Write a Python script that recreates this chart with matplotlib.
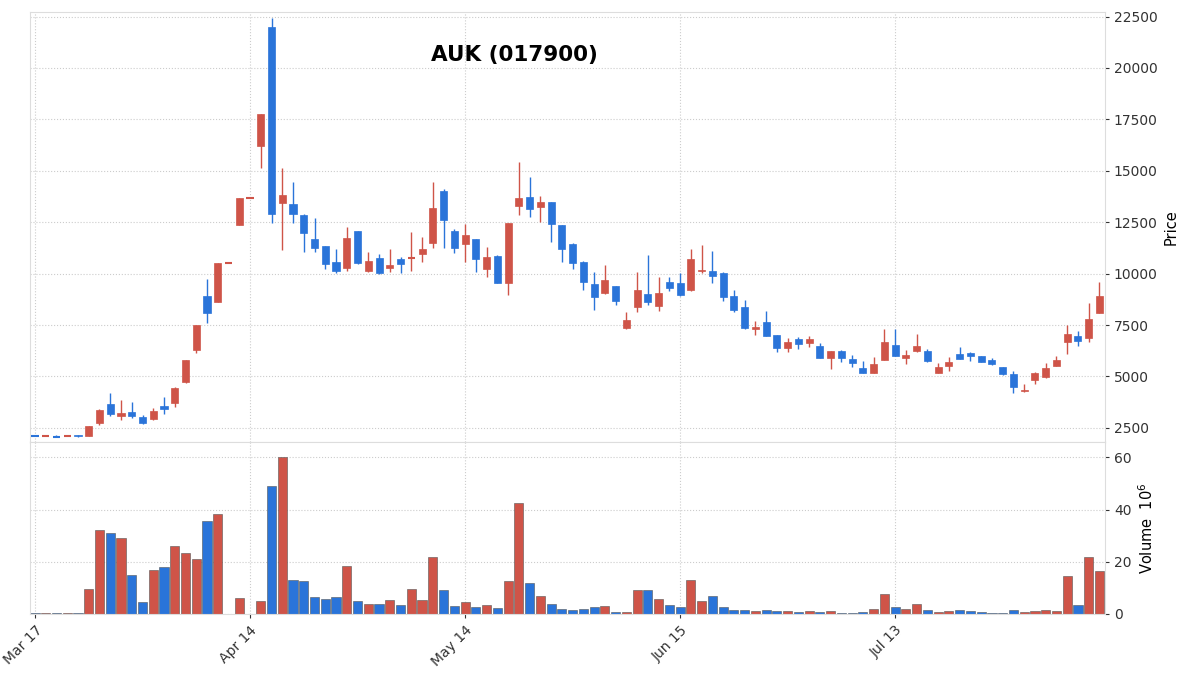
import matplotlib
matplotlib.use("Agg")
import matplotlib.pyplot as plt
import numpy as np

opens = [2130,2100,2080,2100,2130,2100,2740,3670,3050,3280,3030,2950,3570,3720,4740,6300,8920,8630,10530,12380,
         13690,16220,22000,13450,13400,12860,11700,11360,10580,10290,12090,10140,10770,10290,10720,10740,10970,11500,14030,12090,
         11450,11700,10240,10870,9550,13300,13740,13260,13500,12380,11450,10580,9510,9070,9410,7370,8390,9020,8440,9600,
         9560,9210,10140,10140,10040,8920,8390,7320,7660,7030,6390,6830,6640,6490,5910,6250,5860,5420,5180,5810,
         6540,5910,6250,6250,5180,5520,6100,6150,6000,5810,5470,5130,4300,4840,4980,5520,6680,6980,6880,8100]
highs = [2150,2130,2130,2140,2150,2600,3400,4200,3860,3770,3130,3470,4010,4480,5810,7520,9750,10530,10560,13690,
         13720,17780,22450,15150,14470,12900,12720,11360,11210,12280,12090,11060,10970,11210,10800,12040,11790,14470,14130,12180,
         12430,11700,11310,10900,12480,15440,14710,13790,13500,12380,11500,10600,10090,10430,9410,8140,10090,10920,9850,9850,
         10040,11210,11400,11110,10090,9210,8730,7710,8190,7030,6880,6930,6980,6640,6250,6290,6050,5760,5950,7320,
         7320,6290,7080,6340,5660,5950,6440,6200,6000,5900,5470,5270,4640,5230,5660,6000,7510,7220,8580,9600]
lows = [2080,2080,2030,2080,2060,2080,2650,3050,2880,2990,2700,2900,3180,3520,4700,6150,7610,8600,10500,12380,
        13660,15150,12480,11160,12480,11060,11060,10240,10040,10140,10480,10100,10000,10090,10040,10140,10580,11260,11260,11020,
        10580,10090,9850,9550,8970,12860,12770,12520,11550,10580,10240,9210,8240,9000,8490,7320,8140,8490,8190,9170,
        8920,9170,10040,9560,8680,8140,7320,7030,6980,6200,6200,6340,6440,5910,5370,5710,5470,5180,5180,5810,
        6000,5610,6200,5710,5180,5270,5860,5760,5710,5570,5080,4200,4250,4640,4940,5520,6100,6490,6680,8100]
closes = [2100,2130,2060,2120,2080,2600,3380,3180,3230,3060,2750,3330,3420,4450,5810,7510,8100,10530,10530,13690,
          13690,17780,12900,13840,12900,11990,11260,10480,10140,11750,10530,10630,10040,10430,10480,10770,11210,13210,12620,11260,
          11900,10720,10820,9560,12480,13690,13160,13500,12430,11210,10530,9600,8870,9700,8680,7760,9210,8630,9070,9310,
          8970,10720,10190,9900,8870,8240,7370,7420,6980,6390,6680,6590,6830,5910,6250,5910,5660,5180,5610,6680,
          6000,6050,6490,5760,5470,5710,5860,6000,5710,5610,5130,4500,4350,5180,5420,5810,7080,6730,7810,8920]
volumes = [0.3,0.3,0.3,0.3,0.3,9.6,32,31,29,15,4.6,17,18,26,23.5,21,35.5,38.5,0.1,6,
           0.1,5,49,60,13,12.7,6.5,5.8,6.5,18.5,5,3.8,3.8,5.4,3.5,9.6,5.4,22,9.2,3,
           4.6,2.7,3.5,2.3,12.7,42.7,12,7,3.8,1.9,1.5,1.9,2.7,3.1,0.8,0.8,9.2,9.2,5.8,3.5,
           2.5,13,5,7,2.7,1.5,1.5,1.2,1.5,1.2,1.2,0.7,1.1,0.7,1.1,0.4,0.4,0.6,1.9,7.7,
           2.7,1.9,3.8,1.7,0.7,1.0,1.4,1.1,0.7,0.3,0.3,1.4,0.6,1.1,1.4,1.1,14.6,3.5,22,16.5]
tick_idx = [0, 20, 40, 60, 80]
tick_labels = ["Mar 17", "Apr 14", "May 14", "Jun 15", "Jul 13"]

UP = "#cf5448"
DOWN = "#2a74d9"

fig = plt.figure(figsize=(11.97, 6.86), dpi=100)
axp = fig.add_axes([0.025, 0.356, 0.898, 0.627])
axv = fig.add_axes([0.025, 0.105, 0.898, 0.251], sharex=axp)

x = np.arange(len(opens))
for i in x:
    o, h, l, c = opens[i], highs[i], lows[i], closes[i]
    col = UP if c >= o else DOWN
    axp.vlines(i, l, h, color=col, linewidth=1.0, zorder=2)
    lo, hi = min(o, c), max(o, c)
    if hi - lo < 40:
        axp.hlines(lo, i - 0.33, i + 0.33, color=col, linewidth=1.5, zorder=3)
    else:
        axp.add_patch(plt.Rectangle((i - 0.33, lo), 0.66, hi - lo, facecolor=col,
                                    edgecolor=col, linewidth=0.5, zorder=3))
    axv.bar(i, volumes[i], width=0.85, color=col, edgecolor="#555555", linewidth=0.4, zorder=2)

for ax in (axp, axv):
    ax.grid(True, linestyle=":", color="#cccccc", linewidth=0.8)
    ax.yaxis.tick_right()
    ax.yaxis.set_label_position("right")
    for s in ax.spines.values():
        s.set_color("#dddddd")
    ax.tick_params(axis="both", colors="#333333", labelsize=10, length=3)
    ax.set_axisbelow(True)

axp.set_xlim(-0.47, 99.5)
axp.set_ylim(1820, 22740)
axp.set_yticks([2500, 5000, 7500, 10000, 12500, 15000, 17500, 20000, 22500])
axp.set_ylabel("Price", fontsize=10.5)
plt.setp(axp.get_xticklabels(), visible=False)
axp.tick_params(axis="x", length=0)
axp.text(0.451, 0.9, "AUK (017900)", transform=axp.transAxes, ha="center",
         va="center", fontsize=15.5, fontweight="bold")

axv.set_ylim(0, 66)
axv.set_yticks([0, 20, 40, 60])
axv.set_ylabel("Volume  $10^6$", fontsize=10.5)
axv.set_xticks(tick_idx)
axv.set_xticklabels(tick_labels, rotation=45, ha="right", rotation_mode="anchor")

fig.savefig("out.png", dpi=100)
